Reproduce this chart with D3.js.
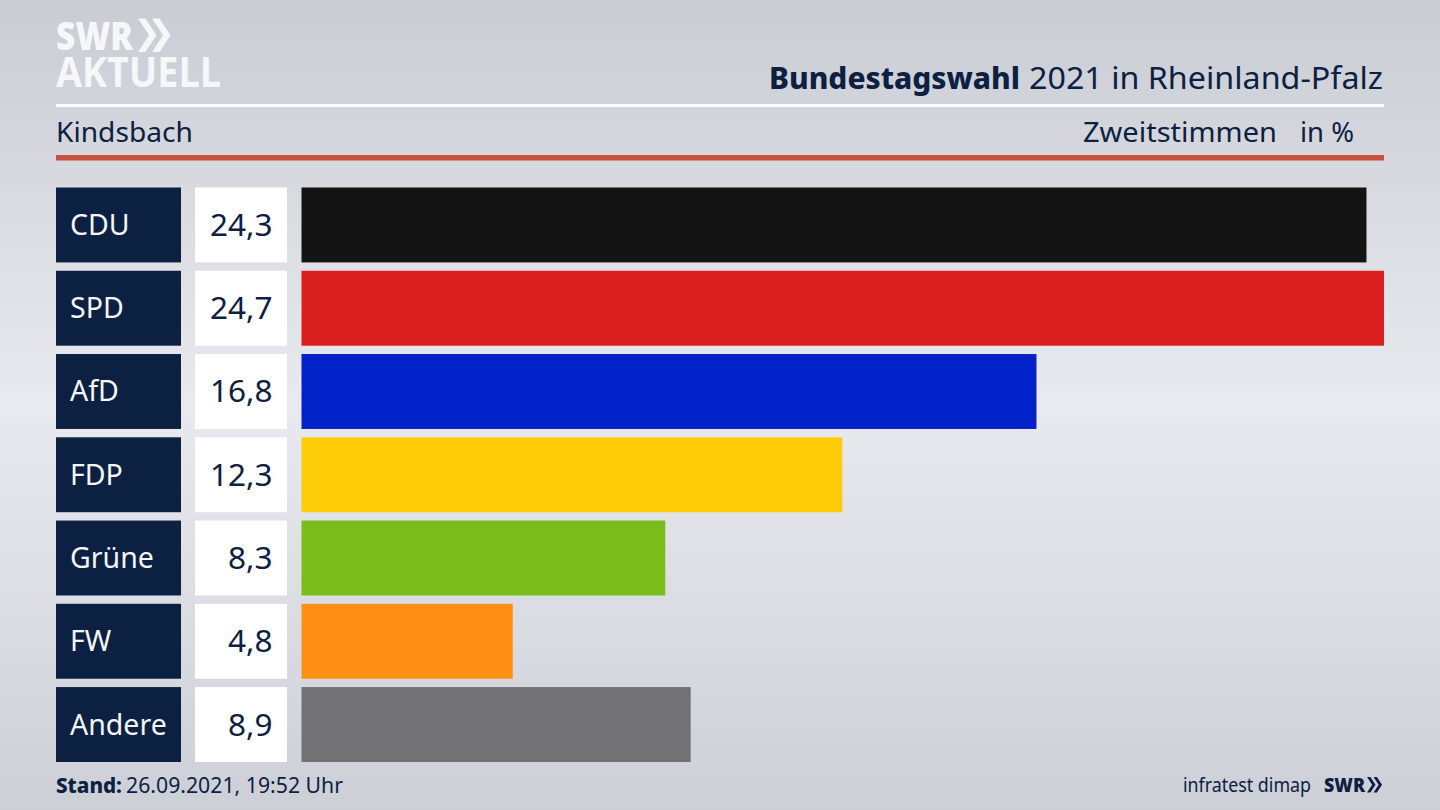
<!DOCTYPE html>
<html><head><meta charset="utf-8">
<script src="https://cdn.jsdelivr.net/npm/d3@7/dist/d3.min.js"></script>
<style>html,body{margin:0;padding:0;overflow:hidden;background:#dfe1e6}svg{display:block}text{font-family:"Noto Sans",sans-serif}</style>
</head><body><svg id="c" width="1440" height="810"></svg>
<script>
const parties = ["CDU","SPD","AfD","FDP","Grüne","FW","Andere"];
const shares = [24.3,24.7,16.77,12.34,8.3,4.82,8.88];
const shareLabels = ["24,3","24,7","16,8","12,3","8,3","4,8","8,9"];
const barColors = ["#141414","#da201e","#0022c8","#ffcc08","#7abd1a","#ff8f14","#727274"];
const navy = "#0c2141";

const svg = d3.select("#c");
const defs = svg.append("defs");
const g = defs.append("linearGradient").attr("id","bg").attr("x1",0).attr("y1",0).attr("x2",0).attr("y2",1);
[[0,"#c9ccd3"],[0.5,"#e9eaef"],[1,"#ccd0d6"]].forEach(s=>g.append("stop").attr("offset",s[0]).attr("stop-color",s[1]));
svg.append("rect").attr("width",1440).attr("height",810).attr("fill","url(#bg)");

const x = d3.scaleLinear().domain([0,24.7]).range([301.5,1384]);
const y = d3.scaleBand().domain(parties).range([187.5,762]).paddingInner(0.1).paddingOuter(0);

const fit = (px,py,len,size,txt,weight,fill,fam)=>{
  const t = svg.append("text").attr("x",px).attr("y",py).attr("font-size",size).attr("fill",fill)
    .attr("font-weight",weight||400).attr("textLength",len).attr("lengthAdjust","spacingAndGlyphs").text(txt);
  if(fam) t.style("font-family",fam);
  return t;
};
const chevrons = (x0,y0,h,fill)=>{
  const w=h*0.33, t=h*0.22, step=h*0.42;
  [0,1].forEach(i=>{
    const a=x0+i*step;
    svg.append("path").attr("fill",fill)
      .attr("d",`M${a} ${y0}L${a+t} ${y0}L${a+t+w} ${y0+h/2}L${a+t} ${y0+h}L${a} ${y0+h}L${a+w} ${y0+h/2}Z`);
  });
};
const logoFont = "'Open Sans',sans-serif";
fit(56,50,77,38,"SWR",800,"#f6f7f8",logoFont);
chevrons(138,18.5,33.5,"#f6f7f8");
fit(56,87,165,41,"AKTUELL",700,"#f6f7f8",logoFont);

fit(769,89,251,31,"Bundestagswahl",800,navy);
fit(1029,89,354,31,"2021 in Rheinland-Pfalz",400,navy);
svg.append("rect").attr("x",56).attr("y",104).attr("width",1328).attr("height",3).attr("fill","#fbfbfc");
fit(56,142,137,28,"Kindsbach",400,navy);
fit(1083,142,194,28,"Zweitstimmen",400,navy);
fit(1300,142,54,28,"in %",400,navy);
svg.append("rect").attr("x",56).attr("y",155).attr("width",1328).attr("height",5.5).attr("fill","#c8503e");

const rows = svg.selectAll("g.row").data(parties).join("g").attr("class","row");
rows.append("rect").attr("x",56).attr("y",d=>y(d)).attr("width",125).attr("height",y.bandwidth()).attr("fill",navy);
rows.append("text").attr("x",70).attr("y",d=>y(d)+y.bandwidth()/2+10).attr("font-size",28.5).attr("fill","#f4f6f8").text(d=>d);
rows.append("rect").attr("x",195).attr("y",d=>y(d)).attr("width",92).attr("height",y.bandwidth()).attr("fill","#fff");
rows.append("text").attr("x",272.5).attr("y",d=>y(d)+y.bandwidth()/2+11).attr("text-anchor","end").attr("font-size",31.5).attr("fill",navy).text((d,i)=>shareLabels[i]);
rows.append("rect").attr("x",x(0)).attr("y",d=>y(d)).attr("width",(d,i)=>x(shares[i])-x(0)).attr("height",y.bandwidth()).attr("fill",(d,i)=>barColors[i]);

fit(56,793,66,22,"Stand:",800,navy);
fit(126,793,217,22,"26.09.2021, 19:52 Uhr",400,navy);
fit(1183,792,128,19,"infratest dimap",400,navy);
fit(1324,792,41,20,"SWR",800,navy,logoFont);
chevrons(1367,777,15.5,navy);
</script></body></html>
